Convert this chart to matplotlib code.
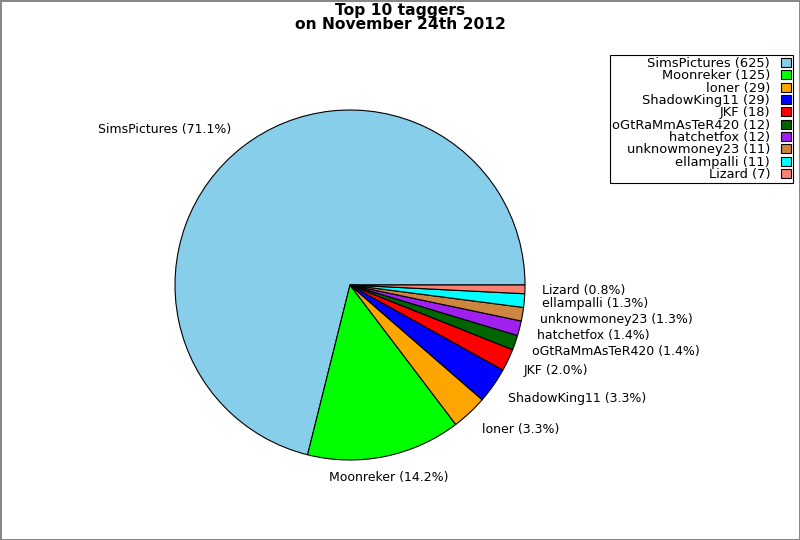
import matplotlib
matplotlib.use("Agg")
import matplotlib.pyplot as plt
import numpy as np

names = ["SimsPictures", "Moonreker", "loner", "ShadowKing11", "JKF",
         "oGtRaMmAsTeR420", "hatchetfox", "unknowmoney23", "ellampalli", "Lizard"]
counts = [625, 125, 29, 29, 18, 12, 12, 11, 11, 7]
colors = ["#87CEEB", "#00FF00", "#FFA500", "#0000FF", "#FF0000",
          "#006400", "#A020F0", "#CD853F", "#00FFFF", "#FA8072"]
title = "Top 10 taggers\non November 24th 2012"

total = sum(counts)
pie_labels = [f"{n} ({c / total * 100:.1f}%)" for n, c in zip(names, counts)]
legend_labels = [f"{n} ({c})" for n, c in zip(names, counts)]

fig = plt.figure(figsize=(8, 5.4), dpi=100)
fig.patch.set_edgecolor("#888888")
fig.patch.set_linewidth(1.0)
ax = fig.add_axes([131.25 / 800, 36.25 / 540, 437.5 / 800, 437.5 / 540])
wedges, texts = ax.pie(counts, labels=pie_labels, colors=colors, startangle=0,
                       counterclock=True, labeldistance=1.1,
                       wedgeprops=dict(edgecolor="black", linewidth=0.8),
                       textprops=dict(fontsize=9))
for t in texts:
    x, y = t.get_position()
    s = y / 1.1
    t.set_position((x, y + 0.025 * np.sign(s) * abs(s) ** 0.4))
    if abs(x) < 0.3:
        t.set_ha("center")
ax.set_aspect("equal")
fig.suptitle(title, fontsize=11.2, fontweight="bold", y=0.995, linespacing=0.9)
leg = fig.legend(wedges, legend_labels, loc="upper right",
                 bbox_to_anchor=(793 / 800, 1 - 55 / 540), markerfirst=False,
                 fontsize=9.4, labelspacing=-0.05, handlelength=0.8, handleheight=0.7,
                 handletextpad=0.8, borderpad=0.15, fancybox=False, framealpha=1,
                 edgecolor="black", borderaxespad=0)
for t in leg.get_texts():
    t.set_ha("right")
leg.get_frame().set_linewidth(0.8)
fig.savefig("out.png", dpi=100)
